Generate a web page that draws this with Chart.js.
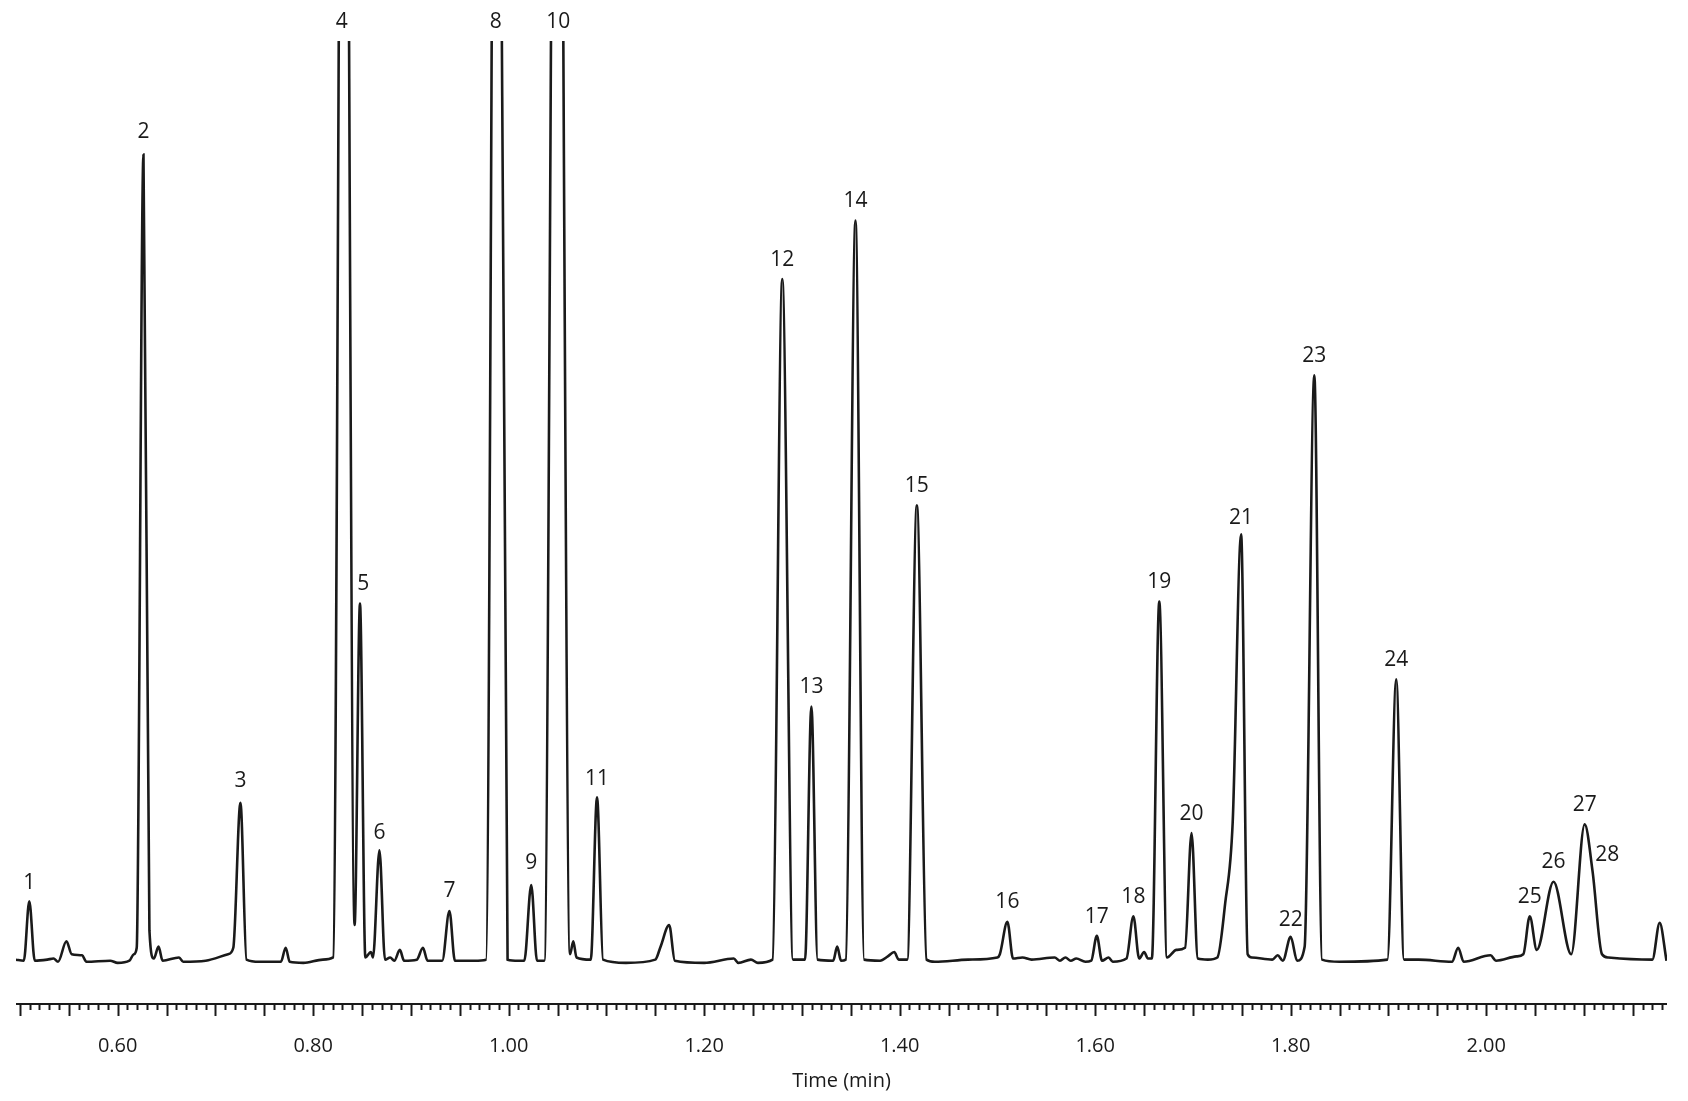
<!DOCTYPE html>
<html>
<head>
<meta charset="utf-8">
<script src="https://cdn.jsdelivr.net/npm/chart.js@4.4.1/dist/chart.umd.min.js"></script>
<style>
  html, body { margin: 0; padding: 0; background: #fff; }
  #chrom { display: block; }
</style>
</head>
<body>
<canvas id="chrom" width="1688" height="1101"></canvas>
<script>
// retention time (min) and detector signal
const times = [
  0.4953, 0.504, 0.5096, 0.5152, 0.528, 0.5344, 0.539, 0.5476, 0.553, 0.5636, 0.568, 0.5923, 0.600,
  0.612, 0.6165, 0.6195, 0.6264, 0.6325, 0.637, 0.6418, 0.646, 0.6628, 0.667,
  0.690, 0.713, 0.7183, 0.7256, 0.7318, 0.745, 0.767, 0.7719, 0.776, 0.790, 0.810,
  0.8205, 0.8314, 0.8424, 0.8479, 0.8534, 0.859, 0.8612, 0.8678, 0.8735, 0.8788, 0.883,
  0.8887, 0.893, 0.906, 0.9123, 0.917, 0.932, 0.9394, 0.945, 0.965,
  0.9769, 0.9879, 0.9989, 1.010, 1.016, 1.0231, 1.029,
  1.0364, 1.0496, 1.0628, 1.0661, 1.0694, 1.084, 1.0904, 1.0965, 1.120,
  1.150, 1.1554, 1.1642, 1.170, 1.200, 1.2303, 1.235, 1.2479, 1.255,
  1.2700, 1.2799, 1.2909, 1.3032, 1.3097, 1.316, 1.332, 1.3361, 1.340,
  1.3449, 1.3548, 1.3636, 1.380, 1.3879, 1.3945, 1.399, 1.4077, 1.4176, 1.4275,
  1.436, 1.470, 1.500, 1.5025, 1.5102, 1.516, 1.5256, 1.535, 1.5586, 1.564, 1.5696, 1.575,
  1.5807, 1.590, 1.596, 1.6017, 1.607, 1.6138, 1.618, 1.632, 1.6391, 1.645, 1.6501, 1.654,
  1.658, 1.6656, 1.6735, 1.6832, 1.692, 1.6986, 1.705, 1.7153, 1.725, 1.733, 1.7407, 1.7493,
  1.756, 1.7603, 1.7812, 1.7867, 1.792, 1.800, 1.8066, 1.8143, 1.8242, 1.832, 1.850,
  1.899, 1.908, 1.916, 1.931, 1.965, 1.9714, 1.977, 2.0045, 2.010, 2.0309, 2.038, 2.0446,
  2.0518, 2.0689, 2.087, 2.1008, 2.1088, 2.1185, 2.125, 2.170, 2.1775, 2.1845
];
const signal = [
  3, 2, 57, 2, 3, 4, 1, 20, 8, 7, 1, 2, 0,
  2, 8, 14, 747, 30, 4, 15, 2, 5, 1,
  2, 8, 14, 148, 3, 1, 1, 14, 1, 0, 3,
  5, 1600, 35, 332, 5, 10, 5, 104, 3, 5, 2,
  12, 2, 3, 14, 2, 2, 48, 2, 2,
  3, 1600, 3, 2, 2, 72, 2,
  2, 1600, 8, 20, 5, 3, 153, 3, 0,
  3, 15, 35, 2, 0, 4, 0, 3, 0,
  3, 632, 3, 3, 237, 3, 2, 15, 2,
  3, 686, 3, 2, 6, 10, 3, 3, 423, 3,
  1, 3, 5, 8, 38, 4, 5, 3, 5, 2, 5, 2,
  4, 1, 2, 25, 2, 5, 1, 4, 43, 4, 10, 4,
  4, 334, 5, 12, 14, 120, 4, 3, 5, 55, 130, 396,
  8, 5, 3, 7, 2, 24, 2, 15, 543, 3, 1,
  3, 262, 3, 3, 1, 14, 1, 7, 2, 6, 8, 43,
  12, 75, 8, 128, 85, 8, 5, 3, 37, 2
];

// peak numbers and where their labels sit (time, signal height of label centre)
const peakLabels = ['1','2','3','4','5','6','7','8','9','10','11','12','13','14',
  '15','16','17','18','19','20','21','22','23','24','25','26','27','28'];
const labelTimes = [0.5096, 0.6264, 0.7256, 0.8292, 0.8512, 0.8678, 0.9394, 0.9868, 1.0231, 1.0507,
  1.0904, 1.2799, 1.3097, 1.3548, 1.4176, 1.5102, 1.6017, 1.6391, 1.6656, 1.6986, 1.7493,
  1.800, 1.8242, 1.908, 2.0446, 2.0689, 2.1008, 2.124];
const labelHeights = [74, 768, 168, 870, 350, 120, 66, 870, 92, 870, 170, 650, 255, 704,
  441, 56, 42, 61, 352, 138, 411, 40, 561, 280, 61, 93, 146, 100];

const axisTicks = { min: 0.496, max: 2.185, labelled: ['0.60', '0.80', '1.00', '1.20', '1.40', '1.60', '1.80', '2.00'] };
const axisTitle = 'Time (min)';
const FONT = '"Open Sans", "Noto Sans", sans-serif';

// x axis (line, major/minor ticks, labels, title) drawn off the chart's x scale
const axisPlugin = {
  id: 'timeAxis',
  afterDraw(chart) {
    const ctx = chart.ctx;
    const xs = chart.scales.x;
    const ys = chart.scales.y;
    const { left, right, bottom } = chart.chartArea;
    ctx.save();
    ctx.strokeStyle = '#1a1a1a';
    ctx.lineWidth = 2;
    ctx.beginPath();
    ctx.moveTo(left, bottom);
    ctx.lineTo(right, bottom);
    ctx.stroke();
    for (let i = Math.ceil(axisTicks.min * 100); i <= Math.floor(axisTicks.max * 100); i++) {
      const px = Math.round(xs.getPixelForValue(i / 100)) + 0.5;
      const len = i % 5 === 0 ? 12 : 6;
      ctx.beginPath();
      ctx.moveTo(px, bottom);
      ctx.lineTo(px, bottom + len);
      ctx.stroke();
    }
    ctx.fillStyle = '#1a1a1a';
    ctx.textAlign = 'center';
    ctx.textBaseline = 'middle';
    ctx.font = '20px ' + FONT;
    axisTicks.labelled.forEach(s => {
      ctx.fillText(s, xs.getPixelForValue(parseFloat(s)), bottom + 42);
    });
    ctx.fillText(axisTitle, (left + right) / 2, bottom + 77);
    ctx.font = '21px ' + FONT;
    peakLabels.forEach((lab, i) => {
      ctx.fillText(lab, xs.getPixelForValue(labelTimes[i]), ys.getPixelForValue(labelHeights[i]));
    });
    ctx.restore();
  }
};

new Chart(document.getElementById('chrom'), {
  type: 'line',
  data: {
    datasets: [{
      data: times.map((t, i) => ({ x: t, y: signal[i] })),
      borderColor: '#1a1a1a',
      borderWidth: 2.6,
      pointRadius: 0,
      cubicInterpolationMode: 'monotone',
      fill: false
    }]
  },
  options: {
    responsive: false,
    devicePixelRatio: 1,
    animation: false,
    layout: { padding: { left: 16, right: 21, top: 41, bottom: 97 } },
    plugins: { legend: { display: false }, tooltip: { enabled: false } },
    scales: {
      x: { type: 'linear', display: false, min: axisTicks.min, max: axisTicks.max },
      y: { display: false, min: -38, max: 852 }
    }
  },
  plugins: [axisPlugin]
});
</script>
</body>
</html>
